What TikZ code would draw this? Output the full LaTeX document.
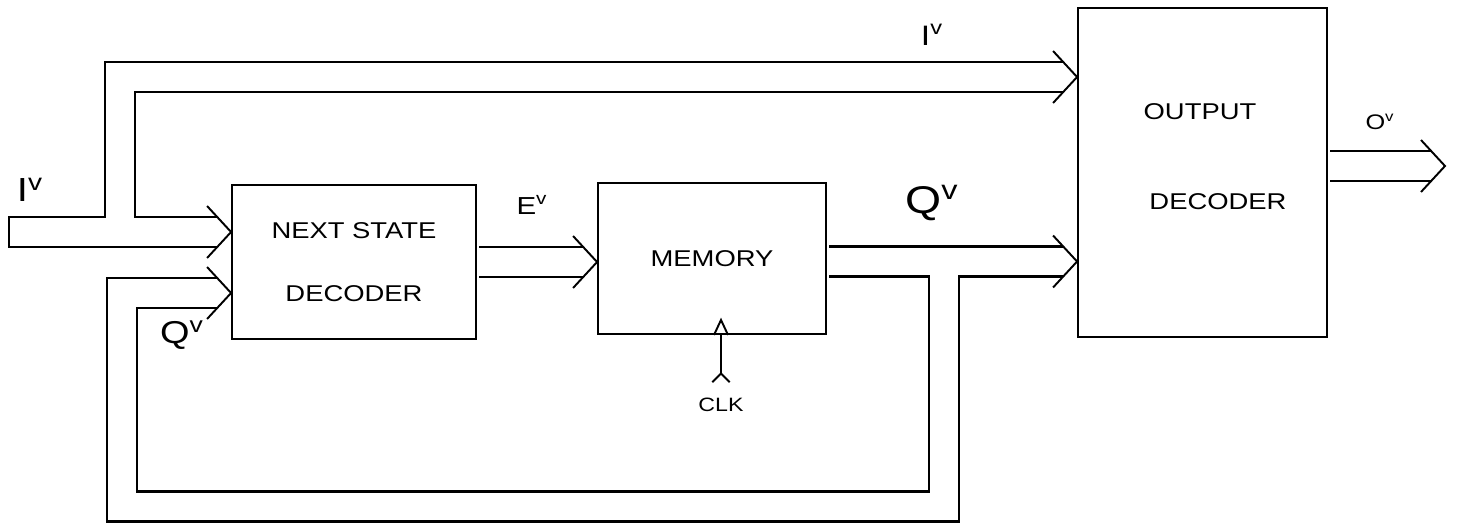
\documentclass[tikz,border=0pt]{standalone}
\usepackage{fontspec}
\setmainfont{Liberation Sans}
\newfontfamily\hand[FakeStretch=1.2]{Liberation Sans}
\usetikzlibrary{arrows.meta,positioning}

\tikzset{
  box/.style={draw, rectangle, line width=1.1pt, inner sep=0pt, align=center,
    font=\hand\fontsize{13}{16}\selectfont},
  lbl/.style={inner sep=1pt, font=\hand\fontsize{#1}{#1}\selectfont},
  lbl/.default=13,
  barb/.style={line width=1.1pt, line join=miter},
}

\begin{document}
\begin{tikzpicture}[x=0.02cm, y=-0.02cm, line width=1.1pt]
\useasboundingbox (0,0) rectangle (1458,525);

\node[box, minimum width=4.88cm, minimum height=3.08cm] (nsd) at (354,262) {NEXT STATE\\[20pt]DECODER};
\node[box, minimum width=4.56cm, minimum height=3.02cm] (mem) at (712,258.5) {MEMORY};
\node[box, minimum width=4.98cm, minimum height=6.58cm] (out) at (1202.5,172.5) {};
\node[lbl] (outa) at (1200,112) {OUTPUT};
\node[lbl] (outb) at (1218,202) {DECODER};
\node[lbl=11] (clk) at (721,405) {CLK};

% bus corners and free ends
\coordinate (iin) at (8,232);
\coordinate (ibend) at (120,77);
\coordinate (qsplit) at (944,261.5);
\coordinate (qbot) at (122,506.5);
\coordinate (qback) at (122,293);
\coordinate (oend) at (1445,166);
\coordinate (qs0) at (mem.east |- qsplit);
\coordinate (os0) at (out.east |- oend);
\coordinate (clkin) at (clk.north |- mem.south);
% arrow tips on the boxes
\coordinate (ti1) at (nsd.west |- iin);
\coordinate (tq1) at (nsd.west |- qback);
\coordinate (te) at (mem.west |- nsd.east);
\coordinate (ti2) at (out.west |- ibend);
\coordinate (tq2) at (out.west |- qsplit);

% buses: black pass first, then the white inside
\foreach \w/\c/\s in {18.5pt/black/0pt, 15.7pt/white/1.3pt} {
  \draw[line width=\w, color=\c] ([xshift=\s]iin) -| (ibend) -- ([xshift=-0.28cm]ti2);
  \draw[line width=\w, color=\c] (iin -| ibend) -- ([xshift=-0.28cm]ti1);
  \draw[line width=\w, color=\c] ([xshift=0.05cm]nsd.east) -- ([xshift=-0.28cm]te);
  \draw[line width=\w, color=\c] ([xshift=0.05cm]qs0) -- ([xshift=-0.28cm]tq2);
  \draw[line width=\w, color=\c] (qsplit) |- (qbot) -- (qback) -- ([xshift=-0.28cm]tq1);
  \draw[line width=\w, color=\c] ([xshift=0.05cm]os0) -- ([xshift=-0.28cm]oend);
}
\foreach \t in {ti1,tq1,te,ti2,tq2,oend}
  \draw[barb] (\t) ++(-24,-26) -- (\t) -- ++(-24,26);

% clock
\draw (clkin) ++(-7,0) -- ++(7,-15) -- ++(7,15);
\draw[{Straight Barb[reversed, length=5pt, width=10pt]}-] ([yshift=7pt]clk.north) -- (clkin);

\node[lbl=19] (lin) at (30,190) {I\textsuperscript{v}};
\node[lbl=16] (ltop) at (932,35) {I\textsuperscript{v}};
\node[lbl=18] (lqin) at (182,335) {Q\textsuperscript{v}};
\node[lbl=14] (le) at (532,205) {E\textsuperscript{v}};
\node[lbl=22] (lq) at (932,203) {Q\textsuperscript{v}};
\node[lbl=12] (lo) at (1380,122) {O\textsuperscript{v}};
\end{tikzpicture}
\end{document}
